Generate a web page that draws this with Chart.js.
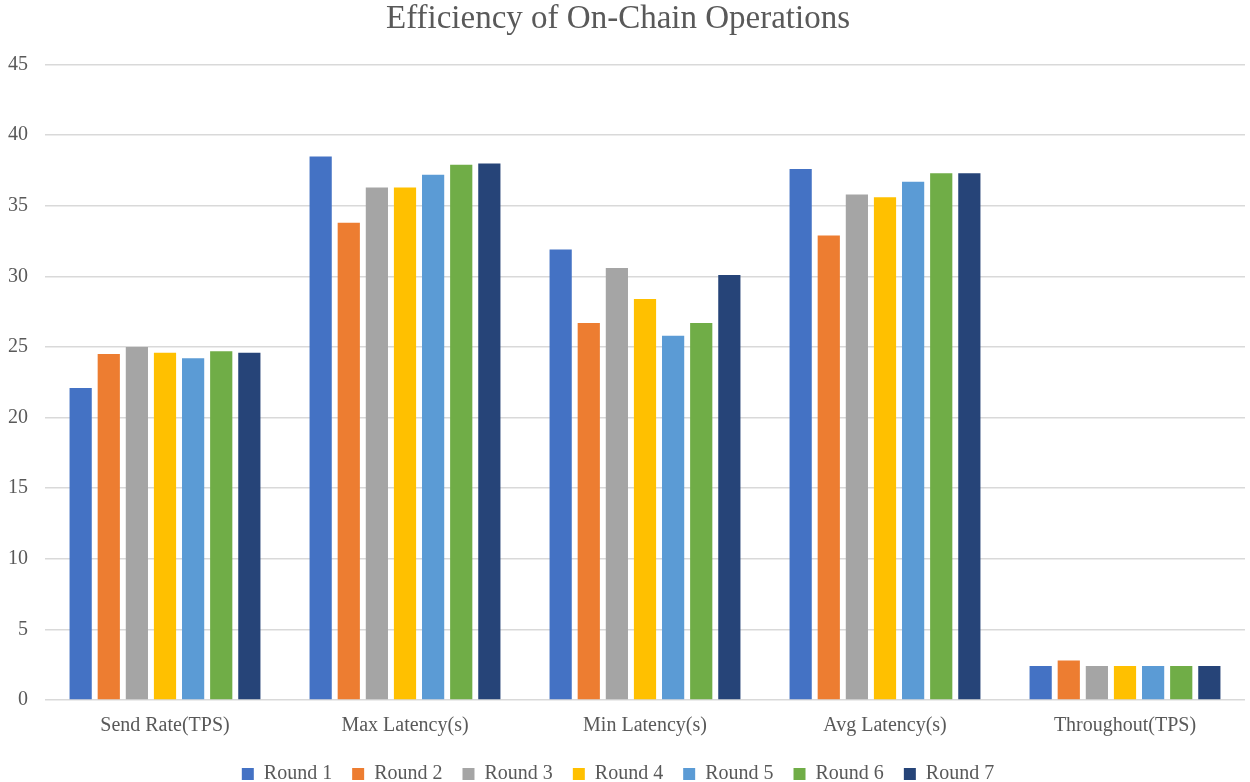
<!DOCTYPE html>
<html>
<head>
<meta charset="utf-8">
<script src="https://cdn.jsdelivr.net/npm/chart.js@4"></script>
<style>
  body { margin: 0; background: #fff; }
  #wrap { width: 1250px; height: 782px; }
</style>
</head>
<body>
<div id="wrap"><canvas id="myChart"></canvas></div>
<script>
const categories = ["Send Rate(TPS)", "Max Latency(s)", "Min Latency(s)", "Avg Latency(s)", "Throughout(TPS)"];
const round1 = [22.1, 38.5, 31.9, 37.6, 2.4];
const round2 = [24.5, 33.8, 26.7, 32.9, 2.8];
const round3 = [25.0, 36.3, 30.6, 35.8, 2.4];
const round4 = [24.6, 36.3, 28.4, 35.6, 2.4];
const round5 = [24.2, 37.2, 25.8, 36.7, 2.4];
const round6 = [24.7, 37.9, 26.7, 37.3, 2.4];
const round7 = [24.6, 38.0, 30.1, 37.3, 2.4];
const roundNames = ["Round 1", "Round 2", "Round 3", "Round 4", "Round 5", "Round 6", "Round 7"];
const colors = ["#4472C4", "#ED7D31", "#A5A5A5", "#FFC000", "#5B9BD5", "#70AD47", "#264478"];

const textColor = "#595959";
const serif = "'Liberation Serif', 'Times New Roman', serif";

const allRounds = [round1, round2, round3, round4, round5, round6, round7];
const datasets = allRounds.map((values, i) => ({
  label: roundNames[i],
  data: values,
  backgroundColor: colors[i],
  borderColor: colors[i],
  borderWidth: 0,
  categoryPercentage: 0.82,
  barPercentage: 0.79,
}));

const ctx = document.getElementById("myChart").getContext("2d");
new Chart(ctx, {
  type: "bar",
  data: { labels: categories, datasets },
  options: {
    responsive: true,
    maintainAspectRatio: false,
    animation: false,
    layout: { padding: { left: -9, right: 5, top: 0, bottom: -12 } },
    plugins: {
      title: {
        display: true,
        text: "Efficiency of On-Chain Operations",
        color: textColor,
        font: { family: serif, size: 33, weight: "normal" },
        padding: { top: 0, bottom: 25 },
      },
      legend: {
        position: "bottom",
        labels: {
          color: textColor,
          font: { family: serif, size: 20 },
          boxWidth: 12,
          boxHeight: 12,
          padding: 20,
        },
      },
      tooltip: { enabled: false },
    },
    scales: {
      x: {
        grid: { display: false },
        border: { display: false },
        ticks: { color: textColor, font: { family: serif, size: 20 }, padding: 6 },
      },
      y: {
        min: 0,
        max: 45,
        ticks: { stepSize: 5, color: textColor, font: { family: serif, size: 20 }, padding: 17 },
        grid: { color: "#d9d9d9", lineWidth: 1.5, drawTicks: false },
        border: { display: false },
      },
    },
  },
});
</script>
</body>
</html>
